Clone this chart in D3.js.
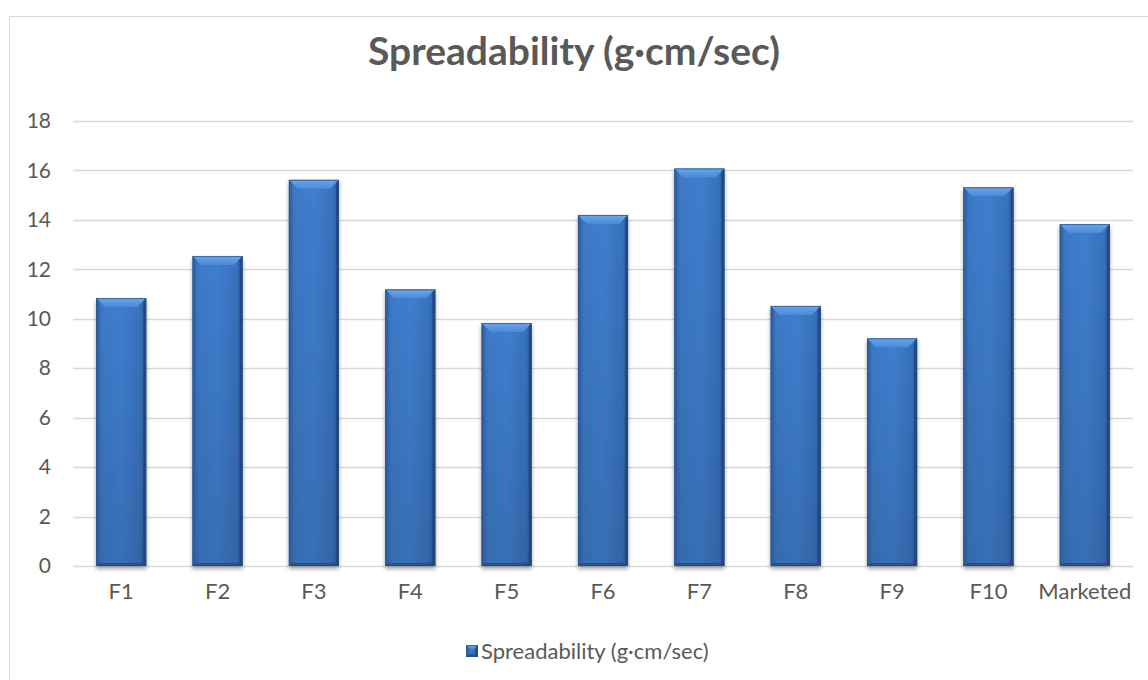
<!DOCTYPE html>
<html>
<head>
<meta charset="utf-8">
<script src="https://cdn.jsdelivr.net/npm/d3@7"></script>
<style>
  html, body { margin: 0; padding: 0; background: #fff; }
  svg { display: block; font-family: Lato, "Open Sans", "Liberation Sans", sans-serif; }
</style>
</head>
<body>
<svg id="chart" width="1148" height="680"></svg>
<script>
// Spreadability of formulations F1–F10 and the marketed product
const categories = ["F1", "F2", "F3", "F4", "F5", "F6", "F7", "F8", "F9", "F10", "Marketed"];
const spreadability = [10.84, 12.54, 15.62, 11.19, 9.83, 14.2, 16.08, 10.52, 9.21, 15.32, 13.83];
const yTicks = [0, 2, 4, 6, 8, 10, 12, 14, 16, 18];
const titleText = "Spreadability (g\u00b7cm/sec)";
const seriesName = "Spreadability (g\u00b7cm/sec)";

const svg = d3.select("#chart");
const W = 1148, H = 680;
const plot = { left: 73, right: 1133, top: 121, bottom: 566 };
const labelFont = "Lato, sans-serif";
const labelColor = "#595959";

// chart frame
svg.append("rect")
  .attr("x", 9.5).attr("y", 16.5)
  .attr("width", W + 20).attr("height", H + 20)
  .attr("fill", "#fff").attr("stroke", "#d9d9d9").attr("stroke-width", 1);

const defs = svg.append("defs");
const body = defs.append("linearGradient").attr("id", "barBody")
  .attr("x1", "0").attr("x2", "1").attr("y1", "0").attr("y2", "0");
body.append("stop").attr("offset", "0").attr("stop-color", "#3566a8");
body.append("stop").attr("offset", "0.12").attr("stop-color", "#3c79c6");
body.append("stop").attr("offset", "0.5").attr("stop-color", "#3f7ecf");
body.append("stop").attr("offset", "0.88").attr("stop-color", "#3872bc");
body.append("stop").attr("offset", "1").attr("stop-color", "#2c5a96");

const vert = defs.append("linearGradient").attr("id", "barShade")
  .attr("x1", "0").attr("x2", "0").attr("y1", "0").attr("y2", "1");
vert.append("stop").attr("offset", "0").attr("stop-color", "#000").attr("stop-opacity", 0);
vert.append("stop").attr("offset", "1").attr("stop-color", "#000").attr("stop-opacity", 0.12);

const topG = defs.append("linearGradient").attr("id", "barTop")
  .attr("x1", "0").attr("x2", "0").attr("y1", "0").attr("y2", "1");
topG.append("stop").attr("offset", "0").attr("stop-color", "#6aa6ea");
topG.append("stop").attr("offset", "1").attr("stop-color", "#4a8ad8");

const shadow = defs.append("filter").attr("id", "shadow")
  .attr("x", "-20%").attr("y", "-5%").attr("width", "140%").attr("height", "115%");
shadow.append("feGaussianBlur").attr("in", "SourceAlpha").attr("stdDeviation", 2.2);
shadow.append("feOffset").attr("dx", 0).attr("dy", 3).attr("result", "blur");
shadow.append("feComponentTransfer").append("feFuncA").attr("type", "linear").attr("slope", 0.35);
const merge = shadow.append("feMerge");
merge.append("feMergeNode");
merge.append("feMergeNode").attr("in", "SourceGraphic");

const x = d3.scaleBand().domain(categories).range([plot.left, plot.right]).paddingInner(0.48).paddingOuter(0.24);
const y = d3.scaleLinear().domain([0, 18]).range([plot.bottom, plot.top]);

// gridlines
svg.append("g").selectAll("line").data(yTicks).join("line")
  .attr("x1", plot.left).attr("x2", plot.right)
  .attr("y1", d => Math.round(y(d)) + 0.5).attr("y2", d => Math.round(y(d)) + 0.5)
  .attr("stroke", "#d9d9d9").attr("stroke-width", 1.5);

// y axis labels
const yAxis = d3.axisLeft(y).tickValues(yTicks).tickSize(0).tickPadding(0);
svg.append("g").attr("transform", `translate(${plot.left - 22},0)`).call(yAxis)
  .call(g => g.select(".domain").remove())
  .selectAll("text").attr("fill", labelColor).attr("font-size", 21).attr("font-family", labelFont);

// x axis labels
const xAxis = d3.axisBottom(x).tickSize(0).tickPadding(0);
svg.append("g").attr("transform", `translate(0,${plot.bottom + 17})`).call(xAxis)
  .call(g => g.select(".domain").remove())
  .selectAll("text").attr("fill", labelColor).attr("font-size", 22).attr("font-family", labelFont);

// bevelled bars
function drawBar(g, bx, by, bw, bh, b) {
  g.append("rect").attr("x", bx).attr("y", by).attr("width", bw).attr("height", bh)
    .attr("fill", "url(#barBody)");
  g.append("rect").attr("x", bx).attr("y", by).attr("width", bw).attr("height", bh)
    .attr("fill", "url(#barShade)");
  // top bevel
  g.append("path").attr("d", `M${bx},${by}L${bx + bw},${by}L${bx + bw - b},${by + b}L${bx + b},${by + b}Z`)
    .attr("fill", "url(#barTop)");
  // left, right and bottom edges
  const s = 3;
  g.append("path").attr("d", `M${bx},${by}L${bx + s},${by + s}L${bx + s},${by + bh - s}L${bx},${by + bh}Z`)
    .attr("fill", "#2f5f9f").attr("opacity", 0.6);
  g.append("path").attr("d", `M${bx + bw},${by}L${bx + bw - s},${by + s}L${bx + bw - s},${by + bh - s}L${bx + bw},${by + bh}Z`)
    .attr("fill", "#1f4275").attr("opacity", 0.75);
  g.append("path").attr("d", `M${bx},${by + bh}L${bx + s},${by + bh - s}L${bx + bw - s},${by + bh - s}L${bx + bw},${by + bh}Z`)
    .attr("fill", "#1f4275").attr("opacity", 0.6);
  g.append("rect").attr("x", bx + 0.5).attr("y", by + 0.5).attr("width", bw - 1).attr("height", bh - 1)
    .attr("fill", "none").attr("stroke", "#27508a").attr("stroke-width", 1).attr("opacity", 0.7);
}

const bars = svg.append("g");
categories.forEach((c, i) => {
  const v = spreadability[i];
  const g = bars.append("g").attr("filter", "url(#shadow)");
  drawBar(g, x(c), y(v), x.bandwidth(), y(0) - y(v), 9);
});

// title
svg.append("text")
  .attr("x", 574).attr("y", 65).attr("text-anchor", "middle")
  .attr("font-size", 39).attr("font-weight", 700).attr("fill", labelColor)
  .attr("font-family", labelFont)
  .text(titleText);

// legend
const legend = svg.append("g").attr("transform", "translate(466,645)");
const lg = legend.append("g");
drawBar(lg, 0, 0, 12, 12, 4);
legend.append("text").attr("x", 15).attr("y", 14)
  .attr("font-size", 22).attr("fill", labelColor).attr("font-family", labelFont)
  .text(seriesName);
</script>
</body>
</html>
